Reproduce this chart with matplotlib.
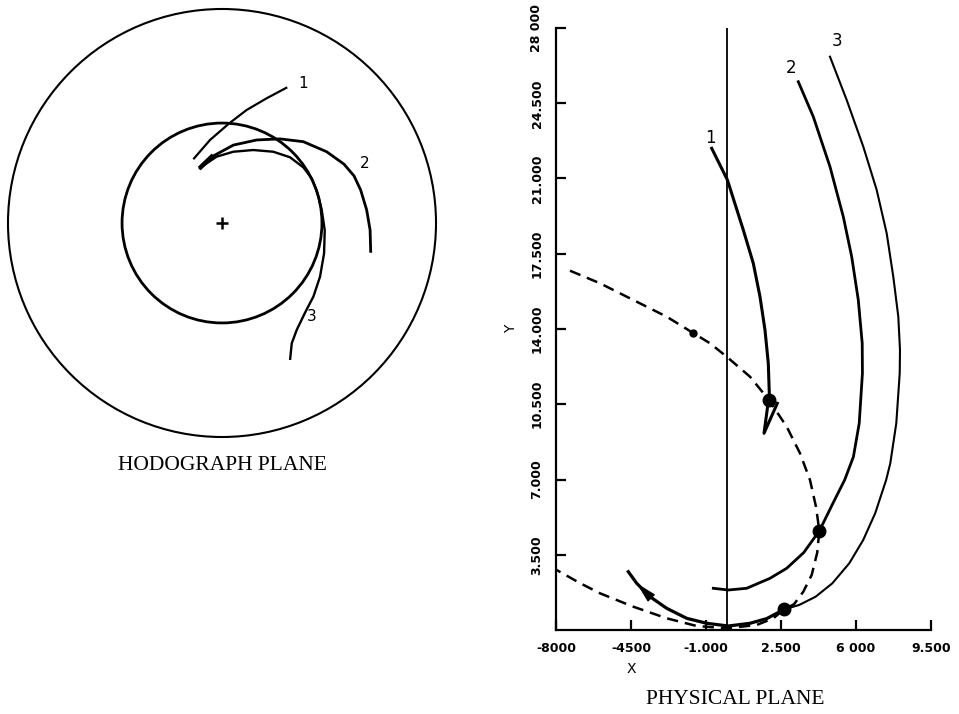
import numpy as np
import matplotlib
matplotlib.use("Agg")
import matplotlib.pyplot as plt
import matplotlib.patches as patches

# ---- hodograph plane (outer circle radius = 1) ----
inner_r = 0.467
hodo_1 = [(-0.134, 0.298), (-0.056, 0.388), (0.034, 0.466), (0.115, 0.528),
          (0.209, 0.583), (0.305, 0.634)]
hodo_2 = [(-0.106, 0.251), (-0.041, 0.313), (0.053, 0.364), (0.162, 0.388),
          (0.271, 0.393), (0.380, 0.380), (0.489, 0.333), (0.570, 0.275),
          (0.617, 0.220), (0.648, 0.154), (0.676, 0.061), (0.692, -0.033),
          (0.695, -0.139)]
hodo_3 = [(-0.095, 0.263), (-0.025, 0.310), (0.053, 0.333), (0.146, 0.341),
          (0.240, 0.333), (0.318, 0.307), (0.380, 0.260), (0.419, 0.209),
          (0.446, 0.140), (0.466, 0.061), (0.480, -0.033), (0.477, -0.142),
          (0.458, -0.251), (0.427, -0.344), (0.390, -0.415), (0.349, -0.500),
          (0.326, -0.562), (0.318, -0.640)]
hodo_labels = ["1", "2", "3"]
hodo_label_pos = [(0.379, 0.654), (0.668, 0.280), (0.421, -0.435)]

# ---- physical plane ----
curve_1 = [(-734, 22405), (0, 20930), (741, 18605), (1207, 17056),
           (1520, 15502), (1753, 13953), (1907, 12405), (1954, 11009),
           (1920, 10720), (1707, 9149), (2327, 10544)]
curve_2 = [(3307, 25502), (4007, 23874), (4786, 21549), (5407, 19223),
           (5799, 17363), (6107, 15349), (6290, 13335), (6300, 11940),
           (6150, 9614), (5880, 8060), (5470, 6977), (5000, 6047),
           (4290, 4612), (3560, 3600), (2766, 2870), (1987, 2405),
           (899, 1940), (41, 1860), (-659, 1940)]
curve_3 = [(4786, 26665), (5566, 24651), (6341, 22479), (6966, 20465),
           (7432, 18451), (7740, 16433), (7974, 14572), (8053, 13023),
           (8040, 11940), (7880, 9614), (7600, 7753), (7406, 6977),
           (6895, 5428), (6336, 4186), (5686, 3102), (4896, 2172),
           (4117, 1549), (3345, 1163), (2650, 960), (1833, 530), (1053, 312),
           (41, 186), (-967, 312), (-1901, 544), (-2834, 1009),
           (-3613, 1549), (-4234, 2172), (-4626, 2712)]
curve_3_split = 18  # index of the dot where the line turns heavy
locus = [(-7347, 16712), (-5947, 16126), (-4393, 15349), (-2834, 14572),
         (-1621, 13828), (-813, 13335), (-34, 12712), (1053, 11781),
         (1920, 10720), (2766, 9456), (3387, 8219), (3853, 6977),
         (4133, 5735), (4290, 4612), (4190, 3600), (3932, 2560),
         (3540, 1780), (3110, 1200), (2650, 960), (2140, 544), (1366, 233),
         (-34, 79), (-1434, 186), (-2834, 544), (-4393, 1084),
         (-5947, 1707), (-6880, 2180), (-7969, 2790)]
big_dots = [(1920, 10720), (4290, 4612), (2650, 960)]
small_dot = (-1621, 13828)
phys_labels = ["1", "2", "3"]
phys_label_pos = [(-781, 22884), (2952, 26140), (5099, 27395)]

x_ticks = [-8000, -4500, -1000, 2500, 6000, 9500]
x_ticklabels = ["-8000", "-4500", "-1.000", "2.500", "6 000", "9.500"]
y_ticks = [3500, 7000, 10500, 14000, 17500, 21000, 24500, 28000]
y_ticklabels = ["3.500", "7.000", "10.500", "14.000", "17.500", "21.000",
                "24.500", "28 000"]

fig = plt.figure(figsize=(9.59, 7.14), dpi=100)

# ---------- hodograph ----------
axh = fig.add_axes([2 / 959, (714 - 443) / 714, 440 / 959, 440 / 714])
axh.set_xlim(-1.028, 1.028)
axh.set_ylim(-1.028, 1.028)
axh.set_aspect("equal")
axh.axis("off")
axh.add_patch(patches.Circle((0, 0), 1.0, fill=False, lw=1.5, ec="black"))
axh.add_patch(patches.Circle((0, 0), inner_r, fill=False, lw=2.0, ec="black"))
axh.plot([0], [0], marker="+", ms=8, mew=1.8, color="black")
for pts, lw in [(hodo_1, 1.6), (hodo_2, 2.0), (hodo_3, 1.7)]:
    a = np.array(pts)
    axh.plot(a[:, 0], a[:, 1], color="black", lw=lw, solid_capstyle="butt",
             solid_joinstyle="round")
# heavy start where trajectories 2 and 3 leave together
h2 = np.array(hodo_2)
axh.plot(h2[:2, 0], h2[:2, 1] + 0.004, color="black", lw=3.2,
         solid_capstyle="butt")
for lab, (x, y) in zip(hodo_labels, hodo_label_pos):
    axh.text(x, y, lab, fontsize=11, ha="center", va="center")
fig.text(222 / 959, (714 - 465) / 714, "HODOGRAPH PLANE",
         family="Liberation Serif", fontsize=15.5, ha="center", va="center")

# ---------- physical plane ----------
ax = fig.add_axes([556 / 959, (714 - 630) / 714, 375 / 959, 602 / 714])
ax.set_xlim(-8000, 9500)
ax.set_ylim(0, 28000)
for s in ["top", "right"]:
    ax.spines[s].set_visible(False)
for s in ["left", "bottom"]:
    ax.spines[s].set_linewidth(1.6)
ax.set_xticks(x_ticks)
ax.set_xticklabels(x_ticklabels)
ax.set_yticks(y_ticks)
ax.set_yticklabels(y_ticklabels, rotation=90, va="center")
ax.tick_params(direction="in", length=7, width=1.6, labelsize=9, pad=9)
for t in ax.get_xticklabels() + ax.get_yticklabels():
    t.set_fontweight("bold")

ax.plot([0, 0], [0, 28000], color="black", lw=1.3)

c1 = np.array(curve_1)
ax.plot(c1[:, 0], c1[:, 1], color="black", lw=2.2, solid_joinstyle="round")
c2 = np.array(curve_2)
ax.plot(c2[:, 0], c2[:, 1], color="black", lw=2.0, solid_joinstyle="round")
c3 = np.array(curve_3)
ax.plot(c3[:curve_3_split + 1, 0], c3[:curve_3_split + 1, 1], color="black",
        lw=1.5, solid_joinstyle="round")
ax.plot(c3[curve_3_split:, 0], c3[curve_3_split:, 1], color="black", lw=2.3,
        solid_joinstyle="round")
ax.annotate("", xy=(c3[-2, 0], c3[-2, 1]), xytext=(c3[-3, 0], c3[-3, 1]),
            arrowprops=dict(arrowstyle="-|>,head_length=0.9,head_width=0.22",
                            color="black", lw=1.0, mutation_scale=14,
                            shrinkA=0, shrinkB=0))

lc = np.array(locus)
ax.plot(lc[:, 0], lc[:, 1], color="black", lw=1.8, ls=(0, (4.5, 2.8)),
        clip_on=False)

bd = np.array(big_dots)
ax.plot(bd[:, 0], bd[:, 1], "o", color="black", ms=9)
ax.plot([small_dot[0]], [small_dot[1]], "o", color="black", ms=5)

for lab, (x, y) in zip(phys_labels, phys_label_pos):
    ax.text(x, y, lab, fontsize=12, ha="center", va="center")

ax.text(-4500, -1800, "X", fontsize=10, ha="center", va="center")
ax.text(-10100, 14000, "Y", fontsize=10, ha="center", va="center",
        rotation=90)

fig.text(735 / 959, (714 - 700) / 714, "PHYSICAL PLANE",
         family="Liberation Serif", fontsize=15.5, ha="center", va="center")

fig.savefig("out.png", dpi=100)
